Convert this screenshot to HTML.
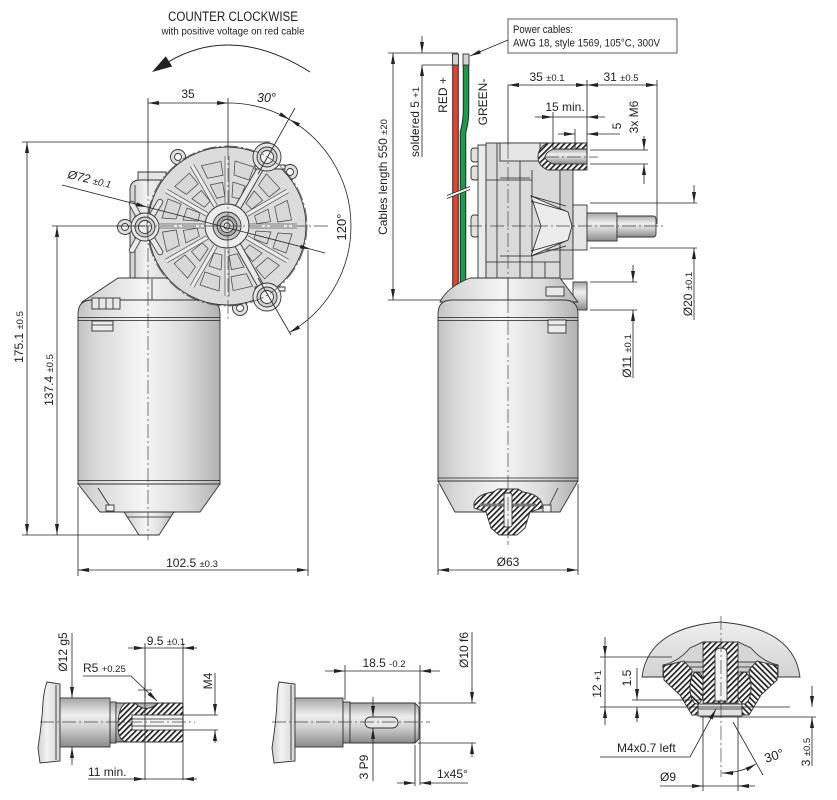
<!DOCTYPE html>
<html><head><meta charset="utf-8">
<style>
html,body{margin:0;padding:0;background:#fff;}
svg{display:block;}
text{font-family:"Liberation Sans",Arial,sans-serif;fill:#222;}
.o{stroke:#333;stroke-width:0.9;}
.d{stroke:#222;stroke-width:0.8;fill:none;}
.cl{stroke:#444;stroke-width:0.7;stroke-dasharray:14 3 2 3;fill:none;}
.t{font-size:12px;}
.s{font-size:9.5px;}
</style></head><body>
<svg width="837" height="800" viewBox="0 0 837 800" xmlns="http://www.w3.org/2000/svg">
<defs>
 <marker id="ar" viewBox="0 0 11 4" refX="11" refY="2" markerWidth="11" markerHeight="4" markerUnits="userSpaceOnUse" orient="auto-start-reverse"><path d="M0,0L11,2L0,4z" fill="#222"/></marker>
 <linearGradient id="cyl" x1="0" y1="0" x2="1" y2="0">
  <stop offset="0" stop-color="#c2c2c2"/><stop offset="0.12" stop-color="#d8d8d8"/><stop offset="0.45" stop-color="#f6f6f6"/><stop offset="0.75" stop-color="#dcdcdc"/><stop offset="1" stop-color="#b2b2b2"/>
 </linearGradient>
 <linearGradient id="cylb" x1="0" y1="0" x2="1" y2="0">
  <stop offset="0" stop-color="#d0d0d0"/><stop offset="0.4" stop-color="#f2f2f2"/><stop offset="1" stop-color="#d6d6d6"/>
 </linearGradient>
 <linearGradient id="shv" x1="0" y1="0" x2="0" y2="1">
  <stop offset="0" stop-color="#a6a6a6"/><stop offset="0.35" stop-color="#efefef"/><stop offset="0.6" stop-color="#d2d2d2"/><stop offset="1" stop-color="#8a8a8a"/>
 </linearGradient>
 <linearGradient id="dome" x1="0" y1="0" x2="0" y2="1">
  <stop offset="0" stop-color="#efefef"/><stop offset="1" stop-color="#d2d2d2"/>
 </linearGradient>
 <pattern id="h" width="4" height="4" patternUnits="userSpaceOnUse" patternTransform="rotate(45)"><rect width="4" height="4" fill="#fff"/><rect width="1.7" height="4" fill="#222"/></pattern>
 <pattern id="h2" width="4" height="4" patternUnits="userSpaceOnUse" patternTransform="rotate(-45)"><rect width="4" height="4" fill="#fff"/><rect width="1.7" height="4" fill="#222"/></pattern>
</defs>
<rect width="837" height="800" fill="#fff"/>

<!-- ================= TOP LEFT: FRONT VIEW ================= -->
<text x="233" y="21" font-size="13.5" text-anchor="middle" textLength="130" lengthAdjust="spacingAndGlyphs">COUNTER CLOCKWISE</text>
<text x="233" y="34.5" font-size="10.5" text-anchor="middle" textLength="143" lengthAdjust="spacingAndGlyphs">with positive voltage on red cable</text>
<path d="M310,72 Q234,24 169,61.4" fill="none" stroke="#222" stroke-width="1"/>
<path d="M152,72 L172.2,66.5 L165.8,56.3 Z" fill="#222"/>

<!-- left housing -->
<path d="M138,172 H166 V182 H138 Z" fill="#e6e6e6" class="o"/>
<path d="M130,190 Q130,180 140,180 H170 V282 H130 Z" fill="url(#cylb)" class="o"/>
<path d="M135,185 V278" class="d" stroke-width="0.6"/>
<!-- cap -->
<path d="M82,302 L118,278 H172 Q205,286 219,302 Z" fill="url(#cyl)" class="o"/>
<path d="M152,279 V300" class="d"/>
<!-- motor body -->
<path d="M78,314 Q78,300 92,300 H206 Q220,300 220,314 V484 H78 Z" fill="url(#cyl)" class="o"/>
<path d="M78,317.5 H220 M78,320.5 H220 M78,480.5 H220 M78,484 H220" class="d" stroke="#333"/>
<rect x="92" y="298" width="28" height="11" fill="#e8e8e8" class="o"/>
<path d="M99,298 V309 M106,298 V309 M113,298 V309" class="d" stroke-width="0.6"/>
<rect x="92" y="321" width="21" height="10" fill="#ececec" class="o"/>
<path d="M92,325 H113" class="d" stroke-width="0.6"/>
<path d="M78,484 L100,512 H200 L220,484 Z" fill="url(#cyl)" class="o"/>
<path d="M98,488 L109,505" class="d" stroke-width="1.1"/>
<rect x="106" y="505" width="8" height="6" fill="#eee" class="o" stroke-width="0.6"/>
<path d="M124,512 L139,535 H159 L174,512 Z" fill="url(#cyl)" class="o"/>
<path d="M127,517 H171" class="d" stroke-width="0.6"/>

<!-- gear housing -->
<g fill="#dedede" class="o">
 <circle cx="178" cy="157" r="7.5"/><circle cx="290" cy="172" r="7.5"/><circle cx="240" cy="308" r="7.5"/><circle cx="125" cy="227" r="7.5"/>
</g>
<g fill="#fff" class="o" stroke-width="0.7">
 <circle cx="178" cy="157" r="3.5"/><circle cx="290" cy="172" r="3.5"/><circle cx="240" cy="308" r="3.5"/><circle cx="125" cy="227" r="3.5"/>
</g>
<circle cx="227" cy="226" r="79" fill="#dcdcdc" class="o" stroke-width="1"/>
<!-- arms around left boss -->
<g stroke="#555" stroke-width="6.5" stroke-linecap="round"><path d="M145,227 L160,202 M145,227 L160,252 M145,227 L132,204 M145,227 L132,250"/></g>
<g stroke="#eaeaea" stroke-width="4.5" stroke-linecap="round"><path d="M145,227 L160,202 M145,227 L160,252 M145,227 L132,204 M145,227 L132,250"/></g>
<g transform="translate(227,226)" stroke="#4a4a4a" stroke-width="0.75" fill="none">
 <g id="seg">
  <path d="M23,-2H70M23,2H70" stroke="#555"/>
  <path d="M24,-1.5H70V1.5H24Z" fill="#ececec" stroke="none"/>
  <path d="M29,5 L44,6 L40,18 L27,13 Z" fill="#d8d8d8"/>
  <path d="M51,7 L65,8 L59,27 L46,22 Z" fill="#d8d8d8"/>
 </g>
 <use href="#seg" transform="rotate(30)"/><use href="#seg" transform="rotate(60)"/><use href="#seg" transform="rotate(90)"/>
 <use href="#seg" transform="rotate(120)"/><use href="#seg" transform="rotate(150)"/><use href="#seg" transform="rotate(180)"/>
 <use href="#seg" transform="rotate(210)"/><use href="#seg" transform="rotate(240)"/><use href="#seg" transform="rotate(270)"/>
 <use href="#seg" transform="rotate(300)"/><use href="#seg" transform="rotate(330)"/>
</g>
<!-- arms to bosses -->
<g stroke="#444" stroke-width="7"><path d="M227,226 L267,157 M227,226 L267,297"/></g>
<g stroke="#ebebeb" stroke-width="5"><path d="M227,226 L267,157 M227,226 L267,297"/></g>
<path d="M255,165 H285 V169 H255 Z M255,287 H285 V291 H255 Z" fill="#f2f2f2" class="o" stroke-width="0.6"/>
<!-- bosses -->
<g class="o">
 <circle cx="267" cy="157" r="14" fill="#e6e6e6"/><circle cx="267" cy="297" r="14" fill="#e6e6e6"/><circle cx="145" cy="227" r="14" fill="#e6e6e6"/>
 <circle cx="267" cy="157" r="10" fill="#d0d0d0"/><circle cx="267" cy="297" r="10" fill="#d0d0d0"/><circle cx="145" cy="227" r="10" fill="#d0d0d0"/>
 <circle cx="267" cy="157" r="6.5" fill="#f0f0f0"/><circle cx="267" cy="297" r="6.5" fill="#f0f0f0"/><circle cx="145" cy="227" r="6.5" fill="#f0f0f0"/>
</g>
<!-- hub -->
<g class="o">
 <circle cx="227" cy="226" r="22" fill="#ececec"/>
 <circle cx="227" cy="226" r="14" fill="#c8c8c8"/>
 <circle cx="227" cy="226" r="10" fill="#a8a8a8"/>
 <circle cx="227" cy="226" r="6.5" fill="#d8d8d8"/>
 <circle cx="227" cy="226" r="3" fill="#f4f4f4"/>
</g>
<circle cx="227" cy="226" r="80" class="cl"/>

<!-- centerlines front -->
<path d="M148,98 V182" class="d"/>
<path d="M148,182 V540" class="cl"/>
<path d="M228,98 V146" class="d"/>
<path d="M228,146 V320" class="cl"/>
<path d="M116,226 H330" class="cl"/>

<!-- 35 dim -->
<path d="M148,103 H228" class="d" marker-start="url(#ar)" marker-end="url(#ar)"/>
<text x="188" y="98" class="t" text-anchor="middle">35</text>
<text x="257" y="102" font-size="12.5" font-style="italic">30°</text>
<!-- angle arcs -->
<path d="M228,103 A123,123 0 0 1 289.5,119.5" class="d" marker-end="url(#ar)"/>
<path d="M289.5,119.5 A123,123 0 0 1 289.5,332.5" class="d" marker-start="url(#ar)" marker-end="url(#ar)"/>
<path d="M258,174 L295,108 M258,278 L291,335" class="d"/>
<text transform="translate(346,227) rotate(-90)" font-size="13" text-anchor="middle">120°</text>
<!-- Ø72 -->
<path d="M62,185 L147,207" class="d" marker-end="url(#ar)"/>
<path d="M147,207 L311,249.3" class="d" marker-end="url(#ar)"/>
<path d="M311,249.3 L325,253" class="d"/>
<text transform="translate(67,178) rotate(13)" font-size="12" font-style="italic">Ø72 <tspan font-size="9.5">±0.1</tspan></text>

<!-- left vertical dims -->
<path d="M22,142 H270" class="d"/>
<path d="M27,142 V535" class="d" marker-start="url(#ar)" marker-end="url(#ar)"/>
<path d="M52,226 H145" class="d"/>
<path d="M57,226 V535" class="d" marker-start="url(#ar)" marker-end="url(#ar)"/>
<path d="M22,535 H140" class="d"/>
<text transform="translate(23,337) rotate(-90)" class="t" text-anchor="middle">175.1 <tspan class="s">±0.5</tspan></text>
<text transform="translate(53,380) rotate(-90)" class="t" text-anchor="middle">137.4 <tspan class="s">±0.5</tspan></text>
<!-- 102.5 -->
<path d="M78,487 V576 M308,250 V576" class="d"/>
<path d="M78,570 H308" class="d" marker-start="url(#ar)" marker-end="url(#ar)"/>
<text x="192" y="567" class="t" text-anchor="middle">102.5 <tspan class="s">±0.3</tspan></text>

<!-- ================= TOP RIGHT: SIDE VIEW ================= -->
<rect x="508" y="19" width="169" height="34" fill="#fff" stroke="#333" stroke-width="0.8"/>
<text x="513" y="33" font-size="11" textLength="60" lengthAdjust="spacingAndGlyphs">Power cables:</text>
<text x="513" y="46.5" font-size="11" textLength="147" lengthAdjust="spacingAndGlyphs">AWG 18, style 1569, 105°C, 300V</text>
<path d="M508,40 L470,56" class="d" marker-end="url(#ar)"/>

<!-- cables -->
<path d="M455.5,65 V298" stroke="#222" stroke-width="6.5" fill="none"/>
<path d="M455.5,65 V298" stroke="#e5432f" stroke-width="4.6" fill="none"/>
<path d="M466,65 V110 Q466,122 463,132 V298" stroke="#222" stroke-width="6.5" fill="none"/>
<path d="M466,65 V110 Q466,122 463,132 V298" stroke="#1f9a4c" stroke-width="4.6" fill="none"/>
<rect x="452.5" y="54" width="6" height="11" fill="#d4d4d4" class="o" stroke-width="0.7"/>
<rect x="463" y="54" width="6" height="11" fill="#d4d4d4" class="o" stroke-width="0.7"/>
<path d="M447,197 L470,188" stroke="#fff" stroke-width="3.5"/>
<path d="M447,195.5 L470,186.5 M447,198.5 L470,189.5" class="d" stroke-width="0.7"/>

<!-- cable dims -->
<path d="M388,53 H458 M388,300 H445" class="d"/>
<path d="M393,53 V300" class="d" marker-start="url(#ar)" marker-end="url(#ar)"/>
<text transform="translate(387,177) rotate(-90)" class="t" text-anchor="middle">Cables length 550 <tspan class="s">±20</tspan></text>
<path d="M422,65 H455" class="d"/>
<path d="M422,36 V53" class="d" marker-end="url(#ar)"/>
<path d="M422,82 V65" class="d" marker-end="url(#ar)"/>
<path d="M422,82 V157" class="d"/>
<text transform="translate(419,122) rotate(-90)" class="t" text-anchor="middle">soldered 5 <tspan class="s">+1</tspan></text>
<text transform="translate(447,95) rotate(-90)" class="t" text-anchor="middle">RED +</text>
<text transform="translate(487,102) rotate(-90)" class="t" text-anchor="middle">GREEN-</text>

<!-- gearbox side -->
<rect x="471" y="148" width="8" height="14" rx="3" fill="#e0e0e0" class="o"/>
<rect x="471" y="166" width="8" height="14" rx="3" fill="#e0e0e0" class="o"/>
<rect x="471" y="215" width="8" height="22" rx="3" fill="#e0e0e0" class="o"/>
<rect x="478" y="145" width="8" height="134" fill="#ebebeb" class="o"/>
<rect x="486" y="143" width="74" height="136" fill="#dadada" class="o"/>
<rect x="500" y="143" width="40" height="18" fill="#e6e6e6" class="o" stroke-width="0.7"/>
<rect x="560" y="168" width="13" height="111" fill="#d0d0d0" class="o"/>
<rect x="573" y="205" width="14" height="45" fill="#e6e6e6" class="o"/>
<rect x="573" y="282" width="14" height="28" fill="url(#shv)" class="o"/>
<path d="M497,143 V279 M520,161 V279 M532,170 V279 M486,180 H532 M486,262 H560 M545,250 H573 M545,262 V279" class="d" stroke-width="0.6"/>
<path d="M500,178 H530 M500,256 H530" class="d" stroke-width="0.6"/>
<!-- gear teeth -->
<path d="M531,196 L568,212 L572,226 L568,240 L531,256 L541,226 Z" fill="#ececec" class="o" stroke-width="0.7"/>
<path d="M531,196 L566,206 M531,201 L566,211 M531,251 L566,241 M531,256 L566,246" class="d" stroke-width="0.6"/>
<!-- M6 hole -->
<path d="M540,143 H587 V170 H548 Q538,166 538,157 Q538,147 548,143 Z" fill="url(#h)" class="o" stroke-width="0.8"/>
<path d="M553,149 H587 V164 H553 Q545,160 545,157 Q545,153 553,149 Z" fill="url(#shv)" class="o" stroke-width="0.7"/>
<!-- shaft -->
<rect x="587" y="213" width="30" height="28" fill="url(#shv)" class="o"/>
<path d="M617,216 H653 Q656,216 656,219 V234 Q656,237 653,237 H617 Z" fill="url(#shv)" class="o"/>
<path d="M468,226 H666" class="cl"/>
<path d="M545,157 H598" class="cl"/>

<!-- side motor -->
<path d="M440,302 Q447,287 470,278 H560 L578,302 Z" fill="url(#cyl)" class="o"/>
<path d="M508,279 V300" class="d" stroke-width="0.6"/>
<rect x="546" y="287" width="18" height="9" fill="#e8e8e8" class="o" stroke-width="0.7"/>
<path d="M438,314 Q438,300 452,300 H564 Q578,300 578,314 V481 H438 Z" fill="url(#cyl)" class="o"/>
<path d="M438,317.5 H578 M438,320.5 H578 M438,478 H578 M438,481 H578" class="d" stroke="#333"/>
<rect x="548" y="320" width="18" height="13" fill="#ececec" class="o"/>
<path d="M548,325 H566" class="d" stroke-width="0.6"/>
<path d="M438,481 L455,512 H560 L578,481 Z" fill="url(#cyl)" class="o"/>
<path d="M558,488 L549,506" class="d" stroke-width="1.1"/>
<rect x="543" y="505" width="8" height="7" fill="#eee" class="o" stroke-width="0.6"/>
<!-- knob side -->
<path d="M474,503 Q478,494 493,492 L498,489 H518 L523,492 Q538,494 542,503 L542,508 L530,512 L525,528 L517,535 H499 L491,528 L486,512 L474,508 Z" fill="url(#h)" class="o"/>
<path d="M480,505 H536" stroke="#777" stroke-width="3"/>
<rect x="504" y="493" width="8" height="34" rx="2" fill="#f2f2f2" class="o" stroke-width="0.7"/>
<path d="M508,85 V145" class="d"/>
<path d="M508,145 V545" class="cl"/>

<!-- side dims -->
<path d="M587,80 V157 M657,80 V224" class="d"/>
<path d="M548,85 H508" class="d" marker-end="url(#ar)"/>
<path d="M548,85 H587" class="d" marker-end="url(#ar)"/>
<path d="M622,85 H587" class="d" marker-end="url(#ar)"/>
<path d="M622,85 H657" class="d" marker-end="url(#ar)"/>
<text x="547" y="81" class="t" text-anchor="middle">35 <tspan class="s">±0.1</tspan></text>
<text x="621" y="81" class="t" text-anchor="middle">31 <tspan class="s">±0.5</tspan></text>
<path d="M553,112 V149" class="d"/>
<path d="M535,117 H553" class="d" marker-end="url(#ar)"/>
<path d="M605,117 H587" class="d" marker-end="url(#ar)"/>
<path d="M553,117 H587" class="d"/>
<text x="565" y="111" class="t" text-anchor="middle">15 min.</text>
<path d="M575,129 V149" class="d"/>
<path d="M558,134 H575" class="d" marker-end="url(#ar)"/>
<path d="M620,134 H587" class="d" marker-end="url(#ar)"/>
<text transform="translate(621,126) rotate(-90)" class="t" text-anchor="middle">5</text>
<path d="M590,150 H648 M590,164 H648" class="d"/>
<path d="M644,136 V150" class="d" marker-end="url(#ar)"/>
<path d="M644,178 V164" class="d" marker-end="url(#ar)"/>
<path d="M644,178 V184" class="d"/>
<text transform="translate(638,117) rotate(-90)" class="t" text-anchor="middle">3x M6</text>
<path d="M590,203 H697 M590,248 H697" class="d"/>
<path d="M694,185 V203" class="d" marker-end="url(#ar)"/>
<path d="M694,266 V248" class="d" marker-end="url(#ar)"/>
<path d="M694,266 V320" class="d"/>
<text transform="translate(692,294) rotate(-90)" class="t" text-anchor="middle">Ø20 <tspan class="s">±0.1</tspan></text>
<path d="M590,282 H637 M590,310 H637" class="d"/>
<path d="M633,265 V282" class="d" marker-end="url(#ar)"/>
<path d="M633,327 V310" class="d" marker-end="url(#ar)"/>
<path d="M633,327 V378" class="d"/>
<text transform="translate(631,356) rotate(-90)" class="t" text-anchor="middle">Ø11 <tspan class="s">±0.1</tspan></text>
<path d="M438,484 V575 M578,484 V575" class="d"/>
<path d="M438,570 H578" class="d" marker-start="url(#ar)" marker-end="url(#ar)"/>
<text x="508" y="566" class="t" text-anchor="middle">Ø63</text>

<!-- ================= BOTTOM LEFT: SHAFT A ================= -->
<path d="M47,682 L60,684 V761 L40,763 L38,748 Q42,722 43,702 Q44,690 47,682 Z" fill="url(#cylb)" class="o"/>
<path d="M56,685 V760" class="d" stroke-width="0.6"/>
<rect x="60" y="698" width="50" height="49" fill="url(#shv)" class="o"/>
<rect x="110" y="702" width="6" height="41" fill="url(#shv)" class="o"/>
<path d="M116,703 H181 Q183,703 183,706 V739 Q183,742 181,742 H116 Z" fill="url(#shv)" class="o"/>
<path d="M126,703 H135 Q146,714 158,703 H181 Q183,703 183,706 V739 Q183,742 181,742 H128 Q118,742 118,726 Q118,707 126,703 Z" fill="url(#h)" class="o"/>
<rect x="132" y="715" width="51" height="15" fill="#f4f4f4" class="o" stroke-width="0.8"/>
<path d="M132,719 H183 M132,726 H183" class="d" stroke-width="0.5"/>
<path d="M40,722 H195" class="cl"/>
<path d="M145,683 V698 M138,690 H152" class="d" stroke-width="0.6"/>
<path d="M72,633 V698" class="d" marker-end="url(#ar)"/>
<path d="M72,765 V747" class="d" marker-end="url(#ar)"/>
<text transform="translate(67,652) rotate(-90)" class="t" text-anchor="middle">Ø12 g5</text>
<path d="M145,643 V780 M183,643 V780" class="d"/>
<path d="M128,648 H145" class="d" marker-end="url(#ar)"/>
<path d="M197,648 H183" class="d" marker-end="url(#ar)"/>
<path d="M145,648 H183" class="d"/>
<text x="166" y="645" class="t" text-anchor="middle">9.5 <tspan class="s">±0.1</tspan></text>
<path d="M83,676 H131 L157,701" class="d" marker-end="url(#ar)"/>
<text x="83" y="672" class="t">R5 <tspan class="s">+0.25</tspan></text>
<path d="M183,715 H218 M183,730 H218" class="d"/>
<path d="M215,673 V715" class="d" marker-end="url(#ar)"/>
<path d="M215,743 V730" class="d" marker-end="url(#ar)"/>
<text transform="translate(212,681) rotate(-90)" class="t" text-anchor="middle">M4</text>
<path d="M88,779 H145" class="d" marker-end="url(#ar)"/>
<path d="M197,779 H183" class="d" marker-end="url(#ar)"/>
<path d="M145,779 H183" class="d"/>
<text x="88" y="776" class="t">11 min.</text>

<!-- ================= BOTTOM MIDDLE: SHAFT B ================= -->
<path d="M279,682 L295,684 V761 L274,763 L272,748 Q276,722 277,702 Q277,690 279,682 Z" fill="url(#cylb)" class="o"/>
<path d="M291,685 V760" class="d" stroke-width="0.6"/>
<rect x="295" y="698" width="48" height="49" fill="url(#shv)" class="o"/>
<rect x="343" y="702" width="7" height="41" fill="url(#shv)" class="o"/>
<path d="M350,703 H415 L419,707 V739 L415,743 H350 Z" fill="url(#shv)" class="o"/>
<path d="M415,703 V743" class="d" stroke-width="0.6"/>
<rect x="365" y="717" width="33" height="11" rx="5.5" fill="#e8e8e8" class="o" stroke-width="0.8"/>
<path d="M272,722 H430" class="cl"/>
<path d="M345,665 V700 M420,665 V785" class="d"/>
<path d="M325,671 H345" class="d" marker-end="url(#ar)"/>
<path d="M440,671 H420" class="d" marker-end="url(#ar)"/>
<path d="M345,671 H420" class="d"/>
<text x="384" y="667" class="t" text-anchor="middle">18.5 <tspan class="s">-0.2</tspan></text>
<path d="M418,703 H476 M418,743 H476" class="d"/>
<path d="M472,632 V703" class="d" marker-end="url(#ar)"/>
<path d="M472,757 V743" class="d" marker-end="url(#ar)"/>
<text transform="translate(468,650) rotate(-90)" class="t" text-anchor="middle">Ø10 f6</text>
<path d="M373,697 V717" class="d" marker-end="url(#ar)"/>
<path d="M373,746 V728" class="d" marker-end="url(#ar)"/>
<path d="M373,746 V781" class="d"/>
<text transform="translate(368,767) rotate(-90)" class="t" text-anchor="middle">3 P9</text>
<path d="M415,745 V786" class="d"/>
<path d="M397,783 H415" class="d" marker-end="url(#ar)"/>
<path d="M434,783 H420" class="d" marker-end="url(#ar)"/>
<path d="M434,783 H468" class="d"/>
<text x="437" y="778" class="t">1x45°</text>

<!-- ================= BOTTOM RIGHT: KNOB ================= -->
<path d="M642,677 Q648,628 720,622 Q794,628 800,677 Z" fill="url(#dome)" class="o"/>
<path d="M663,677 V665 Q678,662 690,648 L703,642 H738 L751,648 Q763,662 778,665 V677 Z" fill="#d6d6d6" class="o" stroke-width="0.8"/>
<rect x="684" y="662" width="74" height="15" fill="#cdcdcd" class="o" stroke-width="0.6"/>
<path d="M684,667 H758 M684,672 H758" class="d" stroke-width="0.5"/>
<path d="M663,666 L684,661 L692,670 L690,685 L700,707 V715 H692 L680,695 L664,680 Z" fill="url(#h)" class="o"/>
<path d="M778,666 L757,661 L749,670 L751,685 L741,707 V715 H749 L761,695 L777,680 Z" fill="url(#h2)" class="o"/>
<ellipse cx="697" cy="688" rx="7" ry="16" fill="url(#h2)" class="o"/>
<ellipse cx="744" cy="688" rx="7" ry="16" fill="url(#h)" class="o"/>
<rect x="698" y="704" width="44" height="12" fill="#e2e2e2" class="o" stroke-width="0.8"/>
<path d="M698,709 H742" class="d" stroke-width="0.5"/>
<rect x="703" y="642" width="35" height="61" fill="url(#h)" class="o"/>
<path d="M715,701 V654 Q715,648 721,648 Q727,648 727,654 V701 Z" fill="#f2f2f2" class="o" stroke-width="0.8"/>
<path d="M721,616 V777" class="cl"/>
<!-- knob dims -->
<path d="M600,657 H672 M600,707 H790 M632,700 H700 M700,717 H816" class="d"/>
<path d="M605,637 V657" class="d" marker-end="url(#ar)"/>
<path d="M605,725 V707" class="d" marker-end="url(#ar)"/>
<path d="M605,657 V707" class="d"/>
<text transform="translate(601,684) rotate(-90)" class="t" text-anchor="middle">12 <tspan class="s">+1</tspan></text>
<path d="M637,668 V700" class="d" marker-end="url(#ar)"/>
<path d="M637,722 V707" class="d" marker-end="url(#ar)"/>
<text transform="translate(631,678) rotate(-90)" class="t" text-anchor="middle">1.5</text>
<path d="M812,686 V707" class="d" marker-end="url(#ar)"/>
<path d="M812,766 V717" class="d" marker-end="url(#ar)"/>
<text transform="translate(810,752) rotate(-90)" class="t" text-anchor="middle">3 <tspan class="s">±0.5</tspan></text>
<path d="M703,717 V791 M738,717 V791" class="d"/>
<path d="M660,786 H703" class="d" marker-end="url(#ar)"/>
<path d="M755,786 H738" class="d" marker-end="url(#ar)"/>
<path d="M703,786 H738" class="d"/>
<text x="660" y="781" class="t">Ø9</text>
<path d="M600,757 H690 L716,709" class="d" marker-end="url(#ar)"/>
<text x="617" y="752" class="t">M4x0.7 left</text>
<path d="M733,722 L763,775" class="d"/>
<path d="M722,773 A68,68 0 0 0 756,764" class="d" marker-start="url(#ar)" marker-end="url(#ar)"/>
<text transform="translate(766,763) rotate(-18)" font-size="13">30°</text>
</svg>
</body></html>
